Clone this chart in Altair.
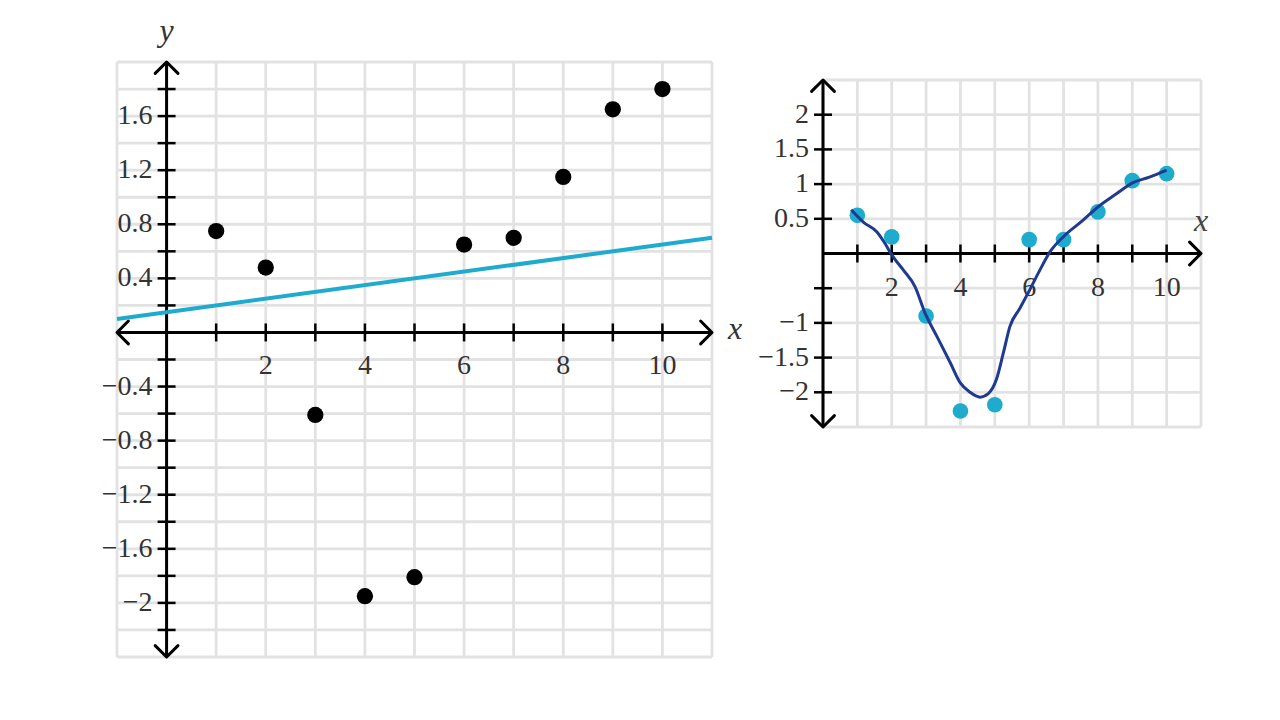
import altair as alt
import pandas as pd

# ---------------- data ----------------
left_x = [1, 2, 3, 4, 5, 6, 7, 8, 9, 10]
left_y = [0.75, 0.48, -0.61, -1.95, -1.81, 0.65, 0.70, 1.15, 1.65, 1.80]
fit_x = [-1, 11]
fit_y = [0.10, 0.70]

right_x = [1, 2, 3, 4, 5, 6, 7, 8, 9, 10]
right_y = [0.55, 0.24, -0.90, -2.27, -2.18, 0.20, 0.20, 0.60, 1.05, 1.15]
curve_x = [0.82, 1.18, 1.57, 1.81, 2.0, 2.34, 2.68, 2.97, 3.31, 3.70, 3.99, 4.28,
           4.57, 4.81, 5.05, 5.25, 5.44, 5.73, 6.02, 6.31, 6.60, 6.99, 7.57, 8.0,
           8.54, 9.02, 9.5, 10.0]
curve_y = [0.63, 0.45, 0.31, 0.14, -0.02, -0.24, -0.48, -0.86, -1.19, -1.57, -1.86, -2.0,
           -2.07, -2.02, -1.81, -1.43, -1.05, -0.79, -0.52, -0.24, 0.02, 0.24, 0.48, 0.67,
           0.86, 1.02, 1.10, 1.20]

# left panel axes
L_xdom = [-1, 11]
L_ydom = [-2.4, 2.0]
L_grid_x = [-1, 0, 1, 2, 3, 4, 5, 6, 7, 8, 9, 10, 11]
L_grid_y = [-2.4, -2.2, -2.0, -1.8, -1.6, -1.4, -1.2, -1.0, -0.8, -0.6, -0.4, -0.2, 0.0,
            0.2, 0.4, 0.6, 0.8, 1.0, 1.2, 1.4, 1.6, 1.8, 2.0]
L_minor_x = [1, 2, 3, 4, 5, 6, 7, 8, 9, 10]
L_minor_y = [-2.2, -2.0, -1.8, -1.6, -1.4, -1.2, -1.0, -0.8, -0.6, -0.4, -0.2,
             0.2, 0.4, 0.6, 0.8, 1.0, 1.2, 1.4, 1.6, 1.8]
L_xlab_v = [2, 4, 6, 8, 10]
L_xlab_t = ["2", "4", "6", "8", "10"]
L_ylab_v = [1.6, 1.2, 0.8, 0.4, -0.4, -0.8, -1.2, -1.6, -2]
L_ylab_t = ["1.6", "1.2", "0.8", "0.4", "\u22120.4", "\u22120.8", "\u22121.2", "\u22121.6", "\u22122"]

# right panel axes
R_xdom = [0, 11]
R_ydom = [-2.5, 2.5]
R_grid_x = [0, 1, 2, 3, 4, 5, 6, 7, 8, 9, 10, 11]
R_grid_y = [-2.5, -2.0, -1.5, -1.0, -0.5, 0.0, 0.5, 1.0, 1.5, 2.0, 2.5]
R_minor_x = [1, 2, 3, 4, 5, 6, 7, 8, 9, 10]
R_minor_y = [-2.0, -1.5, -1.0, -0.5, 0.5, 1.0, 1.5, 2.0]
R_xlab_v = [2, 4, 6, 8, 10]
R_xlab_t = ["2", "4", "6", "8", "10"]
R_ylab_v = [2, 1.5, 1, 0.5, -1, -1.5, -2]
R_ylab_t = ["2", "1.5", "1", "0.5", "\u22121", "\u22121.5", "\u22122"]

# ---------------- style ----------------
FONT = "Liberation Serif"
TXT = "#333333"
GRID = "#e2e2e2"
CYAN = "#1fabcd"
NAVY = "#1f3a8f"
AX = "#000000"
LABEL_SIZE = 28

ARROW = {
    "right": "M -1 -1 L 0 0 L -1 1",
    "left": "M 1 -1 L 0 0 L 1 1",
    "up": "M -1 1 L 0 0 L 1 1",
    "down": "M -1 -1 L 0 0 L 1 -1",
}


def panel(xs, ys, xdom, ydom, gx, gy, mx, my, xlv, xlt, ylv, ylt, left_arrow):
    def X(f):
        return alt.X(f, type="quantitative", scale=xs, axis=None)

    def Y(f):
        return alt.Y(f, type="quantitative", scale=ys, axis=None)

    vgrid = alt.Chart(pd.DataFrame({"gx": gx, "y0": ydom[0], "y1": ydom[1]})).mark_rule(
        color=GRID, strokeWidth=2.8).encode(x=X("gx"), y=Y("y0"), y2="y1")
    hgrid = alt.Chart(pd.DataFrame({"gy": gy, "x0": xdom[0], "x1": xdom[1]})).mark_rule(
        color=GRID, strokeWidth=2.8).encode(y=Y("gy"), x=X("x0"), x2="x1")
    xaxis = alt.Chart(pd.DataFrame({"x0": [xdom[0]], "x1": [xdom[1]], "y": [0]})).mark_rule(
        color=AX, strokeWidth=3).encode(x=X("x0"), x2="x1", y=Y("y"))
    yaxis = alt.Chart(pd.DataFrame({"y0": [ydom[0]], "y1": [ydom[1]], "x": [0]})).mark_rule(
        color=AX, strokeWidth=3).encode(y=Y("y0"), y2="y1", x=X("x"))

    ax_x = [xdom[1], 0, 0]
    ax_y = [0, ydom[1], ydom[0]]
    ax_s = [ARROW["right"], ARROW["up"], ARROW["down"]]
    if left_arrow:
        ax_x.append(xdom[0])
        ax_y.append(0)
        ax_s.append(ARROW["left"])
    arrows = alt.Chart(pd.DataFrame({"x": ax_x, "y": ax_y, "s": ax_s})).mark_point(
        filled=False, color=AX, strokeWidth=3, size=520, opacity=1,
        strokeCap="round", strokeJoin="round").encode(
        x=X("x"), y=Y("y"), shape=alt.Shape("s:N", scale=None, legend=None))

    ytick = alt.Chart(pd.DataFrame({"y": my, "x": 0})).mark_point(
        shape="M -1 0 L 1 0", filled=False, color=AX, strokeWidth=2.5, size=324,
        opacity=1).encode(x=X("x"), y=Y("y"))
    xtick = alt.Chart(pd.DataFrame({"x": mx, "y": 0})).mark_point(
        shape="M 0 -1 L 0 1", filled=False, color=AX, strokeWidth=2.5, size=324,
        opacity=1).encode(x=X("x"), y=Y("y"))

    ylab = alt.Chart(pd.DataFrame({"v": ylv, "t": ylt, "x": 0})).mark_text(
        font=FONT, fontSize=LABEL_SIZE, color=TXT, align="right", baseline="middle",
        dx=-14).encode(x=X("x"), y=Y("v"), text="t:N")
    xlab = alt.Chart(pd.DataFrame({"v": xlv, "t": xlt, "y": 0})).mark_text(
        font=FONT, fontSize=LABEL_SIZE, color=TXT, align="center", baseline="middle",
        dy=34).encode(x=X("v"), y=Y("y"), text="t:N")

    return [vgrid, hgrid, xaxis, yaxis, arrows, ytick, xtick, ylab, xlab], X, Y


LXS = alt.Scale(domain=L_xdom, range=[109, 704], nice=False, zero=False)
LYS = alt.Scale(domain=L_ydom, range=[649, 54], nice=False, zero=False)
RXS = alt.Scale(domain=R_xdom, range=[815, 1193], nice=False, zero=False)
RYS = alt.Scale(domain=R_ydom, range=[419, 72], nice=False, zero=False)

left_layers, LX, LY = panel(LXS, LYS, L_xdom, L_ydom, L_grid_x, L_grid_y, L_minor_x,
                            L_minor_y, L_xlab_v, L_xlab_t, L_ylab_v, L_ylab_t, True)
fit = alt.Chart(pd.DataFrame({"x": fit_x, "y": fit_y})).mark_line(
    color=CYAN, strokeWidth=4).encode(x=LX("x"), y=LY("y"))
pts = alt.Chart(pd.DataFrame({"x": left_x, "y": left_y})).mark_circle(
    color="#000000", size=265, opacity=1).encode(x=LX("x"), y=LY("y"))
ylabel = alt.Chart(pd.DataFrame({"x": [0], "y": [L_ydom[1]], "t": ["y"]})).mark_text(
    font=FONT, fontSize=32, fontStyle="italic", color=TXT, dy=-31).encode(
    x=LX("x"), y=LY("y"), text="t:N")
xlabel = alt.Chart(pd.DataFrame({"x": [L_xdom[1]], "y": [0], "t": ["x"]})).mark_text(
    font=FONT, fontSize=32, fontStyle="italic", color=TXT, dx=23, dy=-3).encode(
    x=LX("x"), y=LY("y"), text="t:N")
left = alt.layer(*left_layers, fit, pts, ylabel, xlabel)

right_layers, RX, RY = panel(RXS, RYS, R_xdom, R_ydom, R_grid_x, R_grid_y, R_minor_x,
                             R_minor_y, R_xlab_v, R_xlab_t, R_ylab_v, R_ylab_t, False)
rpts = alt.Chart(pd.DataFrame({"x": right_x, "y": right_y})).mark_circle(
    color=CYAN, size=245, opacity=1).encode(x=RX("x"), y=RY("y"))
curve = alt.Chart(pd.DataFrame({"x": curve_x, "y": curve_y})).mark_line(
    color=NAVY, strokeWidth=3, interpolate="monotone").encode(
    x=RX("x"), y=RY("y"), order="x:Q")
rxlabel = alt.Chart(pd.DataFrame({"x": [R_xdom[1]], "y": [0], "t": ["x"]})).mark_text(
    font=FONT, fontSize=32, fontStyle="italic", color="#444444", dy=-33).encode(
    x=RX("x"), y=RY("y"), text="t:N")
right = alt.layer(*right_layers, rpts, curve, rxlabel)

chart = alt.layer(left, right).resolve_scale(x="independent", y="independent").properties(
    width=1264, height=704, padding=0,
    autosize=alt.AutoSizeParams(type="none"),
    background="#ffffff",
).configure_view(stroke=None)

chart.save("out.html", embed_options={"renderer": "svg", "actions": False})
